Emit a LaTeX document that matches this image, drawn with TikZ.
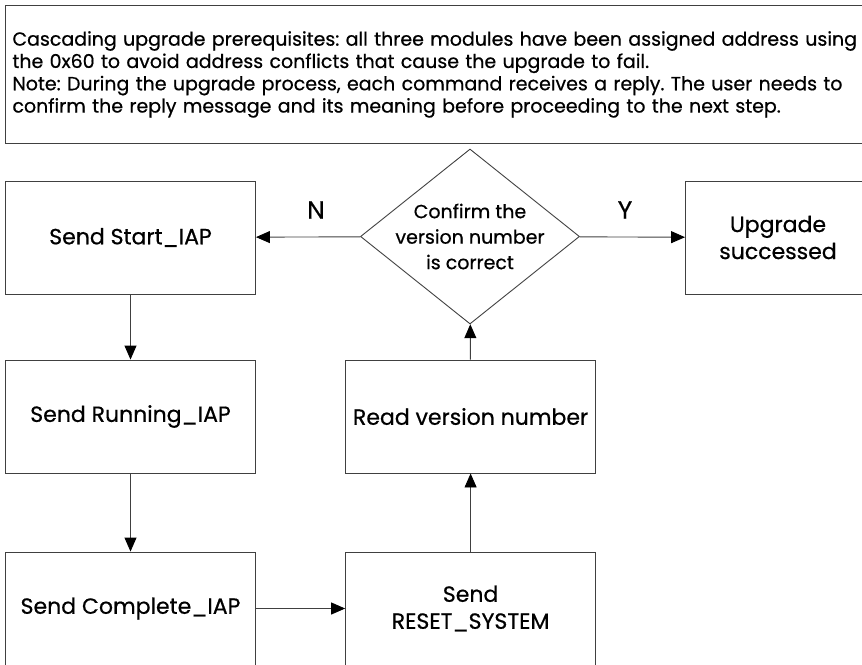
\documentclass[tikz,border=0pt]{standalone}
\usepackage{fontspec}
\setmainfont{Poppins}[UprightFeatures={FakeBold=0.6}]
\usetikzlibrary{shapes.geometric,arrows.meta}
\tikzset{
  stepbox/.style={rectangle, draw=black!75, line width=0.9pt, minimum width=250pt,
    minimum height=113pt, inner sep=0pt, align=center, font=\fontsize{22}{27}\selectfont},
  decision/.style={diamond, draw=black!75, line width=0.9pt, minimum width=219pt,
    minimum height=175pt, inner sep=-22pt, align=center, font=\fontsize{19}{25.5}\selectfont},
  notebox/.style={rectangle, draw=black!75, line width=0.9pt, minimum width=880pt,
    minimum height=138pt, inner xsep=7pt, text width=870pt, align=left,
    font=\fontsize{19}{22.3}\selectfont\frenchspacing},
  flow/.style={draw=black!75, line width=0.9pt, -{Triangle[length=14pt,width=12pt,black]}},
  yn/.style={font=\fontsize{25}{25}\selectfont}
}
\begin{document}
\begin{tikzpicture}[x=1pt,y=-1pt]
\useasboundingbox (0,0) rectangle (862,664);
\clip (0,0) rectangle (862,664);
\node (note)[notebox, anchor=north west] at (5,5) {Cascading upgrade prerequisites: all three modules have been assigned address using\\
the 0x60 to avoid address conflicts that cause the upgrade to fail.\\
Note: During the upgrade process, each command receives a reply. The user needs to\\
confirm the reply message and its meaning before proceeding to the next step.};

\node (start)[stepbox] at (130.5,237.5) {Send Start\_IAP};
\node (check)[decision] at (470,236.5) {Confirm the\\version number\\is correct};
\node (done)[stepbox, minimum width=185pt] at (778,237.5) {Upgrade\\successed};
\node (running)[stepbox] at (130.5,416.5) {Send Running\_IAP};
\node (readver)[stepbox] at (470.6,416.5) {Read version number};
\node (complete)[stepbox] at (130.5,608.5) {Send Complete\_IAP};
\node (reset)[stepbox] at (470.6,608.5) {Send\\RESET\_SYSTEM};

\node (no)[yn] at (316,210) {N};
\node (yes)[yn] at (625,210) {Y};

\draw [flow](check) -- (start);
\draw [flow](check) -- (done);
\draw [flow](start) -- (running);
\draw [flow](running) -- (complete);
\draw [flow](complete) -- (reset);
\draw [flow](reset) -- (readver);
\draw [flow](readver) -- (check);
\end{tikzpicture}
\end{document}
